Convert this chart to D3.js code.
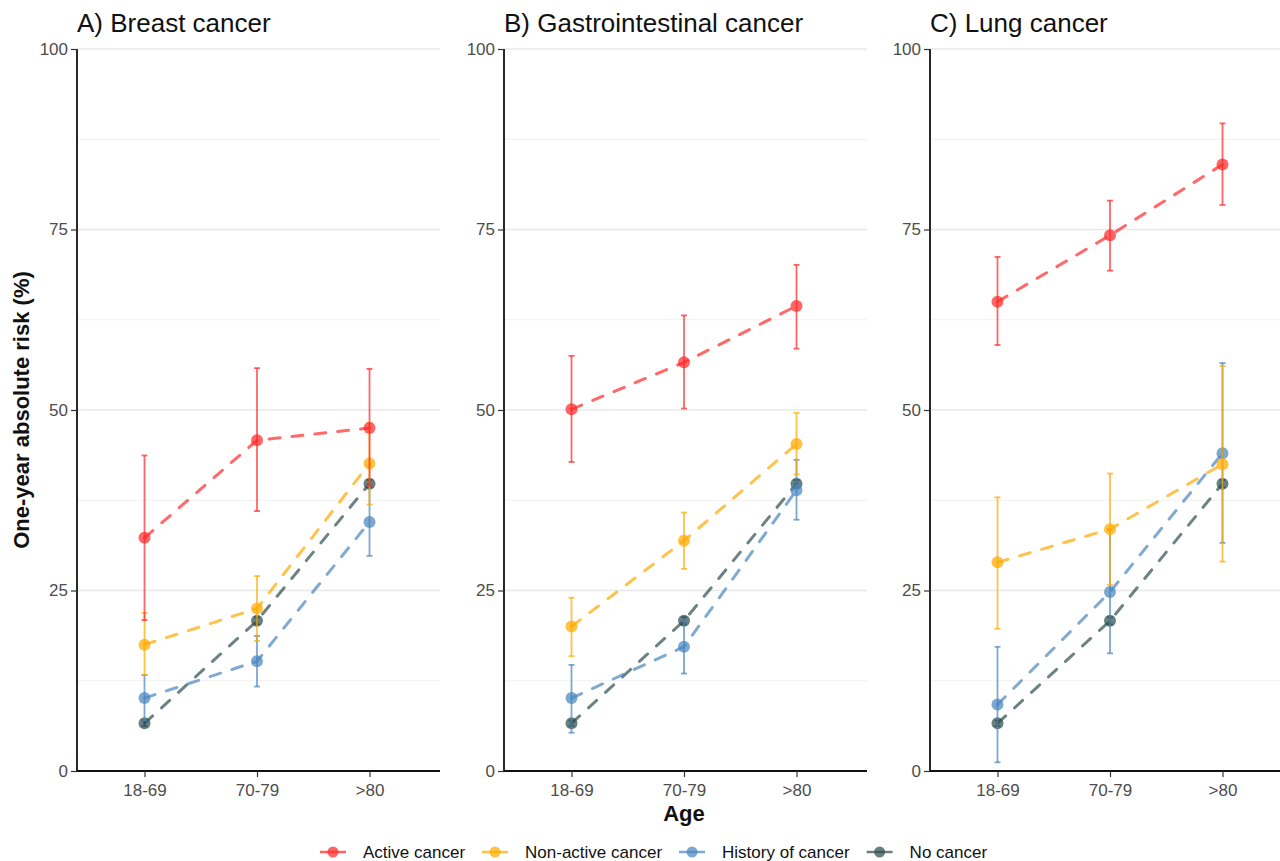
<!DOCTYPE html>
<html>
<head>
<meta charset="utf-8">
<script src="https://cdn.jsdelivr.net/npm/d3@7"></script>
<style>
body { margin: 0; background: #fff; }
svg { display: block; font-family: 'Liberation Sans', Arial, sans-serif; }
</style>
</head>
<body>
<svg></svg>
<script>
let width = 1280
let height = 861

let ages = ['18-69', '70-79', '>80']
let groups = ['Active cancer', 'Non-active cancer', 'History of cancer', 'No cancer']
let groupColors = ['#ff2a2a', '#ffaa00', '#4a86bf', '#2f4f4f']
let panelTitles = ['A) Breast cancer', 'B) Gastrointestinal cancer', 'C) Lung cancer']
let yTicks = [0, 25, 50, 75, 100]

// rows = groups, columns = ages
let breastRisk = [[32.3, 45.8, 47.5], [17.5, 22.5, 42.6], [10.1, 15.2, 34.5], [6.6, 20.8, 39.8]]
let breastLow = [[20.9, 36.0, 39.5], [13.3, 18.0, 36.9], [7.0, 11.7, 29.8], [6.2, 20.3, 39.3]]
let breastHigh = [[43.7, 55.8, 55.7], [21.9, 27.0, 48.2], [13.3, 18.7, 39.5], [7.0, 21.3, 40.3]]

let giRisk = [[50.1, 56.6, 64.4], [20.0, 31.9, 45.3], [10.1, 17.2, 38.9], [6.6, 20.8, 39.8]]
let giLow = [[42.8, 50.2, 58.5], [15.9, 28.0, 41.1], [5.3, 13.5, 34.8], [6.2, 20.3, 39.3]]
let giHigh = [[57.5, 63.1, 70.1], [24.0, 35.8, 49.6], [14.7, 21.0, 43.1], [7.0, 21.3, 40.3]]

let lungRisk = [[65.0, 74.2, 84.0], [28.9, 33.5, 42.5], [9.2, 24.8, 44.0], [6.6, 20.8, 39.8]]
let lungLow = [[59.0, 69.3, 78.4], [19.7, 25.8, 29.0], [1.2, 16.3, 31.6], [6.2, 20.3, 39.3]]
let lungHigh = [[71.2, 79.0, 89.7], [37.9, 41.2, 56.1], [17.2, 33.4, 56.5], [7.0, 21.3, 40.3]]

let panels = [
    { title: panelTitles[0], risk: breastRisk, low: breastLow, high: breastHigh, left: 77 },
    { title: panelTitles[1], risk: giRisk, low: giLow, high: giHigh, left: 504 },
    { title: panelTitles[2], risk: lungRisk, low: lungLow, high: lungHigh, left: 930 }
]

let panelWidth = 360
let plotTop = 49
let plotBottom = 771
let alpha = 0.72

let svg = d3.select('svg')
    .attr('width', width)
    .attr('height', height)

let y = d3.scaleLinear().domain([0, 100]).range([plotBottom, plotTop])
let x = d3.scalePoint().domain(ages).range([0, panelWidth]).padding(0.6)

panels.forEach(p => {
    let g = svg.append('g').attr('transform', `translate(${p.left},0)`)

    // grid
    let minor = d3.range(12.5, 100, 25)
    g.append('g').selectAll('line')
        .data(minor).enter()
        .append('line')
        .attr('x1', 0).attr('x2', panelWidth + 3)
        .attr('y1', d => y(d)).attr('y2', d => y(d))
        .attr('stroke', '#f1f1f1').attr('stroke-width', 1)
    g.append('g').selectAll('line')
        .data(yTicks.filter(d => d > 0)).enter()
        .append('line')
        .attr('x1', 0).attr('x2', panelWidth + 3)
        .attr('y1', d => y(d)).attr('y2', d => y(d))
        .attr('stroke', '#e8e8e8').attr('stroke-width', 1.3)

    // axes
    let yAxis = g.append('g')
        .call(d3.axisLeft(y).tickValues(yTicks).tickSize(6).tickPadding(3))
    let xAxis = g.append('g')
        .attr('transform', `translate(0,${plotBottom})`)
        .call(d3.axisBottom(x).tickSize(6).tickPadding(7))
    xAxis.select('.domain').attr('d', `M0,0H${panelWidth + 3}`)
    yAxis.select('.domain').attr('d', `M0,${plotTop}V${plotBottom}`)
    ;[xAxis, yAxis].forEach(a => {
        a.select('.domain').attr('stroke', '#111').attr('stroke-width', 1.8)
        a.selectAll('.tick line').attr('stroke', '#333').attr('stroke-width', 1.2)
        a.selectAll('.tick text')
            .attr('fill', '#4d4d4d')
            .style('font-size', '17px')
            .style('font-family', "'Liberation Sans', Arial, sans-serif")
    })

    g.append('text')
        .attr('x', 0).attr('y', 32)
        .style('font-size', '26px')
        .attr('fill', '#111')
        .text(p.title)

    // series, drawn last group first so red sits on top
    let series = groups.map((name, gi) => ({
        name, color: groupColors[gi],
        values: ages.map((a, ai) => ({
            age: a, risk: p.risk[gi][ai], low: p.low[gi][ai], high: p.high[gi][ai]
        }))
    })).reverse()

    let line = d3.line().x(d => x(d.age)).y(d => y(d.risk))

    series.forEach(s => {
        let sg = g.append('g')
        sg.append('path')
            .datum(s.values)
            .attr('d', line)
            .attr('fill', 'none')
            .attr('stroke', s.color)
            .attr('stroke-opacity', 0.7)
            .attr('stroke-width', 3)
            .attr('stroke-dasharray', '11,12')
            .attr('stroke-linecap', 'round')
        let bars = sg.selectAll('.bar')
            .data(s.values).enter()
            .append('g')
            .attr('stroke', s.color)
            .attr('stroke-opacity', alpha)
            .attr('stroke-width', 1.8)
        bars.append('line')
            .attr('x1', d => x(d.age)).attr('x2', d => x(d.age))
            .attr('y1', d => y(d.low)).attr('y2', d => y(d.high))
        bars.append('line')
            .attr('x1', d => x(d.age) - 3).attr('x2', d => x(d.age) + 3)
            .attr('y1', d => y(d.low)).attr('y2', d => y(d.low))
        bars.append('line')
            .attr('x1', d => x(d.age) - 3).attr('x2', d => x(d.age) + 3)
            .attr('y1', d => y(d.high)).attr('y2', d => y(d.high))
        sg.selectAll('circle')
            .data(s.values).enter()
            .append('circle')
            .attr('cx', d => x(d.age))
            .attr('cy', d => y(d.risk))
            .attr('r', 6)
            .attr('fill', s.color)
            .attr('fill-opacity', alpha)
    })
})

// axis titles
svg.append('text')
    .attr('transform', `translate(29,${(plotTop + plotBottom) / 2}) rotate(-90)`)
    .attr('text-anchor', 'middle')
    .style('font-size', '22px')
    .style('font-weight', 'bold')
    .attr('fill', '#111')
    .text('One-year absolute risk (%)')

svg.append('text')
    .attr('x', panels[1].left + panelWidth / 2)
    .attr('y', 821)
    .attr('text-anchor', 'middle')
    .style('font-size', '22px')
    .style('font-weight', 'bold')
    .attr('fill', '#111')
    .text('Age')

// legend
let legend = svg.append('g').attr('transform', 'translate(0,852)')
let keyW = 26
let itemX = 320
groups.forEach((name, gi) => {
    let item = legend.append('g').attr('transform', `translate(${itemX},0)`)
    item.append('line')
        .attr('x1', 0).attr('x2', keyW)
        .attr('stroke', groupColors[gi])
        .attr('stroke-opacity', alpha)
        .attr('stroke-width', 2.5)
    item.append('circle')
        .attr('cx', keyW / 2).attr('r', 5.5)
        .attr('fill', groupColors[gi])
        .attr('fill-opacity', alpha)
    let t = item.append('text')
        .attr('x', keyW + 17)
        .attr('dy', '0.35em')
        .style('font-size', '17px')
        .attr('fill', '#111')
        .text(name)
    itemX += keyW + 17 + t.node().getComputedTextLength() + 17
})
</script>
</body>
</html>
